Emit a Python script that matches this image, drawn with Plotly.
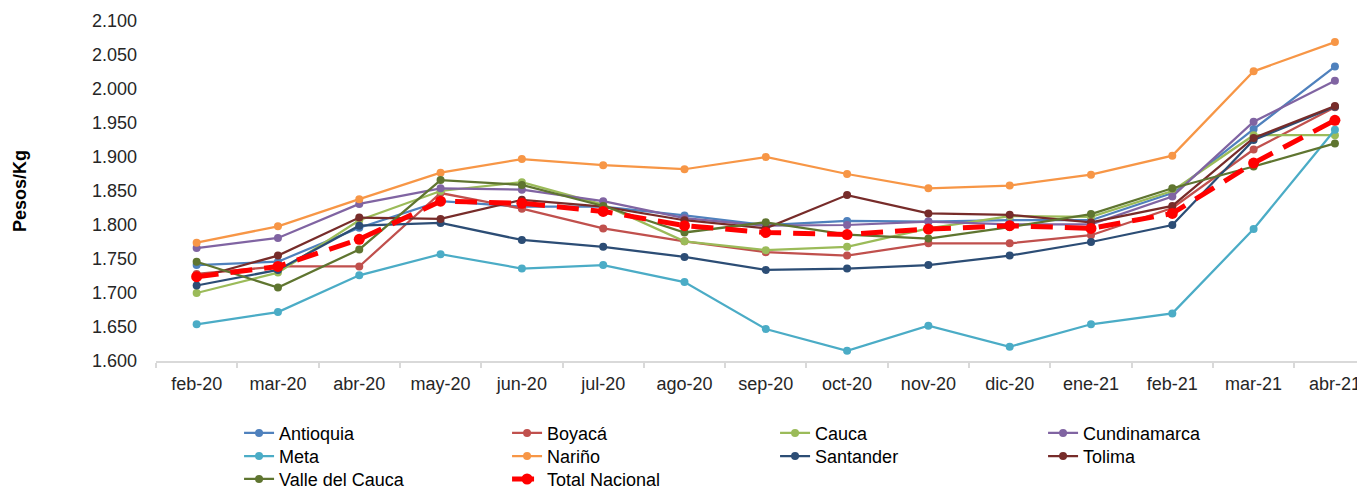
import plotly.graph_objects as go

months = ["feb-20", "mar-20", "abr-20", "may-20", "jun-20", "jul-20", "ago-20", "sep-20",
          "oct-20", "nov-20", "dic-20", "ene-21", "feb-21", "mar-21", "abr-21"]

antioquia = [1741, 1746, 1796, 1835, 1827, 1827, 1814, 1800, 1806, 1805, 1807, 1807, 1847, 1941, 2033]
boyaca = [1728, 1739, 1739, 1847, 1824, 1795, 1776, 1760, 1755, 1773, 1773, 1785, 1825, 1911, 1973]
cauca = [1700, 1730, 1807, 1850, 1863, 1830, 1776, 1763, 1768, 1795, 1813, 1812, 1850, 1932, 1932]
cundinamarca = [1766, 1781, 1831, 1854, 1852, 1835, 1810, 1799, 1800, 1805, 1801, 1801, 1842, 1952, 2012]
meta = [1654, 1672, 1726, 1757, 1736, 1741, 1716, 1647, 1615, 1652, 1621, 1654, 1670, 1794, 1940]
narino = [1774, 1798, 1838, 1877, 1897, 1888, 1882, 1900, 1875, 1854, 1858, 1874, 1902, 2026, 2069]
santander = [1711, 1734, 1799, 1803, 1778, 1768, 1753, 1734, 1736, 1741, 1755, 1775, 1800, 1925, 1974]
tolima = [1722, 1755, 1811, 1809, 1837, 1827, 1807, 1795, 1844, 1817, 1815, 1804, 1828, 1928, 1975]
valle = [1746, 1708, 1764, 1866, 1859, 1828, 1789, 1804, 1786, 1780, 1797, 1816, 1854, 1886, 1920]
total = [1724, 1739, 1779, 1835, 1832, 1820, 1799, 1789, 1786, 1794, 1799, 1795, 1817, 1891, 1954]

# (name, values, colour, legend row)
series = [
    ("Antioquia", antioquia, "#4F81BD", "legend"),
    ("Boyacá", boyaca, "#C0504D", "legend"),
    ("Cauca", cauca, "#9BBB59", "legend"),
    ("Cundinamarca", cundinamarca, "#8064A2", "legend"),
    ("Meta", meta, "#4BACC6", "legend2"),
    ("Nariño", narino, "#F79646", "legend2"),
    ("Santander", santander, "#2C4D75", "legend2"),
    ("Tolima", tolima, "#772C2A", "legend2"),
    ("Valle del Cauca", valle, "#5F7530", "legend3"),
]

fig = go.Figure()
for name, vals, color, leg in series:
    fig.add_trace(go.Scatter(
        x=months, y=vals, name=name, mode="lines+markers", legend=leg,
        line=dict(color=color, width=2.25),
        marker=dict(color=color, size=8, symbol="circle"),
    ))
fig.add_trace(go.Scatter(
    x=months, y=total, name="Total Nacional", mode="lines+markers", legend="legend3",
    line=dict(color="#FF0000", width=5, dash="22px,12px"),
    marker=dict(color="#FF0000", size=11, symbol="circle"),
))

font_family = "Liberation Sans, Arial, sans-serif"


def legend_row(y):
    return dict(
        orientation="h", x=0.0687, xanchor="left", y=y, yanchor="top",
        entrywidth=223, entrywidthmode="pixels",
        font=dict(family=font_family, size=18, color="#000000"),
        bgcolor="rgba(0,0,0,0)",
    )


# the page body has an 8px margin, so the figure is sized to end at the window edge
fig.update_layout(
    width=1357, height=479,
    margin=dict(l=148, r=0, t=13, b=126, pad=0, autoexpand=False),
    paper_bgcolor="white", plot_bgcolor="white",
    separators=",.",
    font=dict(family=font_family, size=18, color="#262626"),
    showlegend=True,
    legend=legend_row(-0.158),
    legend2=legend_row(-0.226),
    legend3=legend_row(-0.2935),
    xaxis=dict(
        type="category", range=[-0.5, 14.37],
        showline=True, linecolor="#D9D9D9", linewidth=1.5,
        ticks="outside", ticklen=5, tickcolor="#D9D9D9", tickwidth=1.5,
        tickson="boundaries", showgrid=False, zeroline=False,
        ticklabelstandoff=6, automargin=False,
        tickfont=dict(size=18, color="#262626"),
    ),
    yaxis=dict(
        range=[1600, 2100], dtick=50, tick0=1600, tickformat=",d",
        showline=False, showgrid=False, zeroline=False, ticks="",
        ticklabelstandoff=18, automargin=False,
        tickfont=dict(size=18, color="#262626"),
        title=dict(text="<b>Pesos/Kg</b>", font=dict(size=18, color="#000000"), standoff=60),
    ),
)

fig.write_html("out.html")
